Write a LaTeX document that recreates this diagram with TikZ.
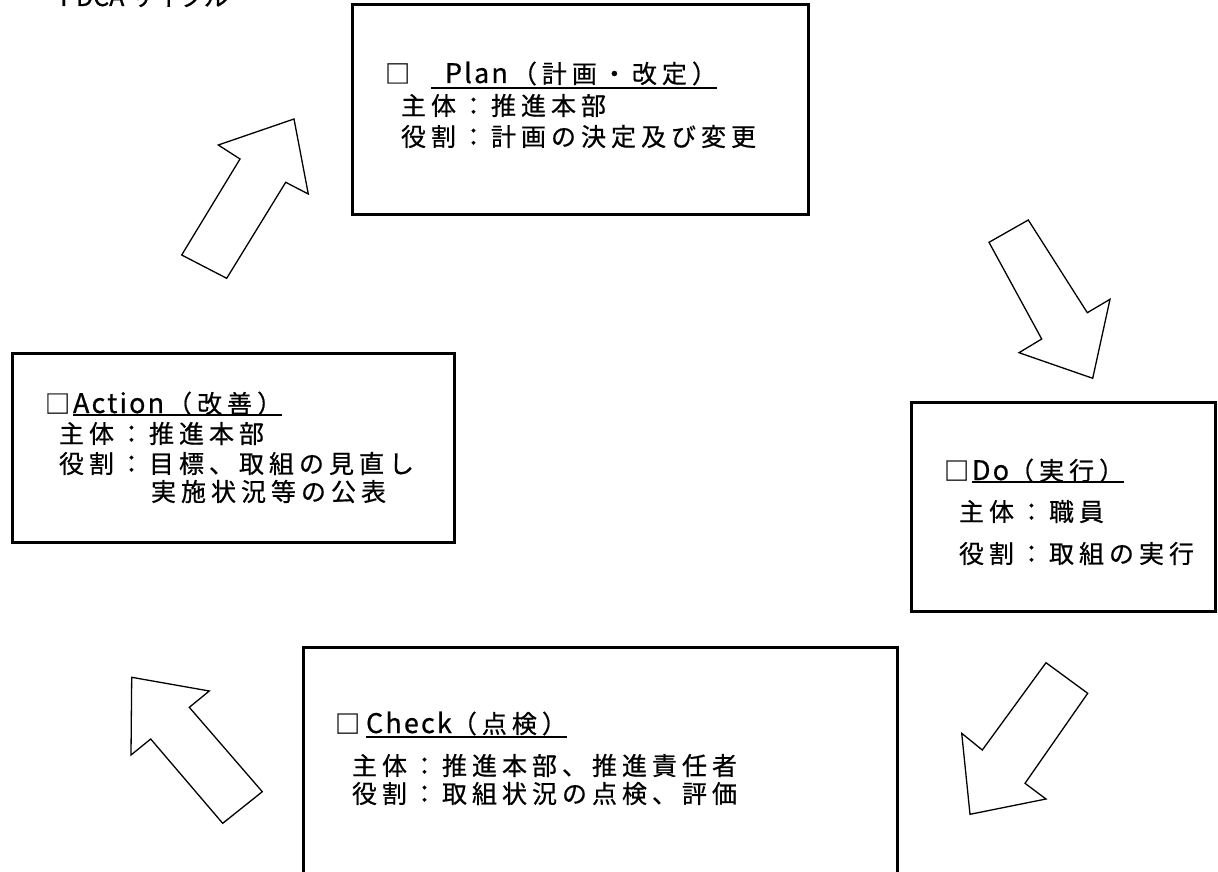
\documentclass[tikz,border=0pt]{standalone}
\usepackage{fontspec}
\newfontfamily\jp{Noto Sans CJK JP}[LetterSpace=20,FakeBold=0.6]
\newfontfamily\jpnarrow{Noto Sans CJK JP}[LetterSpace=8,FakeBold=0.6]
\newfontfamily\jpplain{Noto Sans CJK JP}[FakeBold=0.6]
\newcommand{\lat}[1]{{\jpnarrow\fontsize{27}{28}\selectfont #1}}
\begin{document}
\begin{tikzpicture}[x=1pt,y=-1pt,
  box/.style={draw, line width=3pt, inner sep=0pt, outer sep=0pt, anchor=north west, fill=white},
  txt/.style={inner sep=0pt, outer sep=0pt, anchor=base west, font=\jp\fontsize{25}{28}\selectfont},
  arr/.style={draw, line width=1.3pt, fill=white, line join=miter},
  uline/.style={line width=2pt}]
\useasboundingbox (0,0) rectangle (1218,872);
% heading (cut off at the top)
\node[inner sep=0pt, anchor=base west, font=\jpplain\fontsize{25}{30}\selectfont] (ttl) at (60,6) {PDCA サイクル};
% boxes
\node[box, minimum width=456pt, minimum height=209pt] (plan) at (352,5) {};
\node[box, minimum width=442pt, minimum height=189pt] (act) at (12,353) {};
\node[box, minimum width=304pt, minimum height=209pt] (do) at (911,402) {};
\node[box, minimum width=594pt, minimum height=260pt] (chk) at (303,647) {};
% arrows
\draw[arr] (181.7,255) -- (226.7,278.3) -- (285.7,182.3) -- (308.3,194) -- (294,119) -- (218.3,145) -- (240,159) -- cycle;
\draw[arr] (1028.3,220) -- (989,242.3) -- (1041.7,339) -- (1019,352.7) -- (1092.7,378.3) -- (1110,299.3) -- (1087.3,312.7) -- cycle;
\draw[arr] (1046,662.7) -- (1087.7,693.3) -- (1025,783.3) -- (1046,799) -- (970,814.3) -- (961.7,733.3) -- (982.3,750) -- cycle;
\draw[arr] (131.7,677.3) -- (209.3,691) -- (189.3,707.3) -- (262.3,791.7) -- (222.7,823.3) -- (150.7,739) -- (131,755) -- cycle;
% Plan
\node[txt] (psq) at (385,83) {□};
\node[txt] (ptitle) at (431,83) {\hspace{14pt}\lat{Plan}\hspace{4pt}（計画・改定）\hspace{28pt}};
\draw[uline] ([yshift=-5pt]ptitle.base west) -- ([yshift=-5pt]ptitle.base east);
\node[txt] (p1) at (401,115) {主体：推進本部};
\node[txt] (p2) at (401,146) {役割：計画の決定及び変更};
% Action
\node[txt] (asq) at (45,413) {□};
\node[txt] (atitle) at (73,413) {\lat{Action}\hspace{3pt}（改善）\hspace{6pt}};
\draw[uline] ([yshift=-2pt]atitle.base west) -- ([yshift=-2pt]atitle.base east);
\node[txt] (a1) at (59,443) {主体：推進本部};
\node[txt] (a2) at (59,473) {役割：目標、取組の見直し};
\node[txt] (a3) at (151,501) {実施状況等の公表};
% Do
\node[txt] (dsq) at (944,480) {□};
\node[txt] (dtitle) at (972,480) {\lat{Do}（実行）\hspace{4pt}};
\draw[uline] ([yshift=-2pt]dtitle.base west) -- ([yshift=-2pt]dtitle.base east);
\node[txt] (d1) at (959,521) {主体：職員};
\node[txt] (d2) at (959,563) {役割：取組の実行};
% Check
\node[txt] (csq) at (335,733) {□};
\node[txt] (ctitle) at (366,733) {\lat{Check}（点検）\hspace{7pt}};
\draw[uline] ([yshift=-3.5pt]ctitle.base west) -- ([yshift=-3.5pt]ctitle.base east);
\node[txt] (c1) at (352,775) {主体：推進本部、推進責任者};
\node[txt] (c2) at (352,803) {役割：取組状況の点検、評価};
\end{tikzpicture}
\end{document}
